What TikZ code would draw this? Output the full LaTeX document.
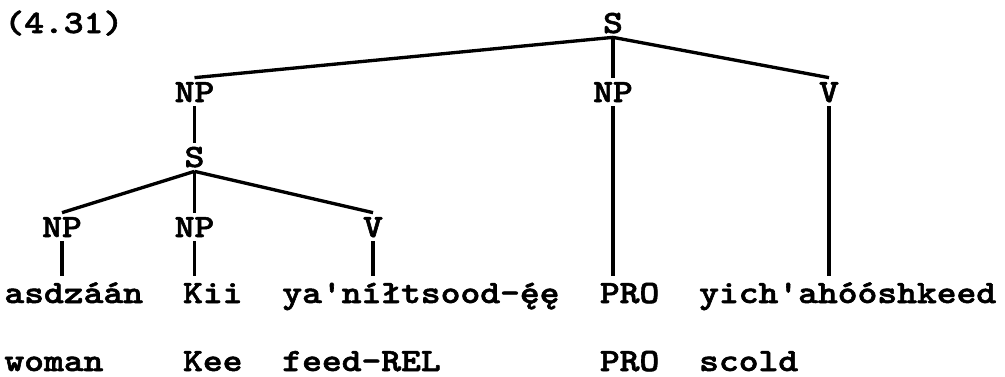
\documentclass[tikz,border=0pt]{standalone}
\usepackage{fontspec}
\usepackage{tikz}
\usetikzlibrary{positioning}
\newfontfamily\typew{lmmonolt10-bold.otf}[FakeBold=1.6]
\newcommand{\leafpair}[4]{%
  \node[word] (w#1) at (0.08+0.397*#2,1.46) {#3};
  \node[word] (g#1) at (0.08+0.397*#2,0.10) {#4};}

\begin{document}
\begin{tikzpicture}[font=\fontsize{18.5pt}{22pt}\selectfont\typew,
  cat/.style={anchor=base, inner xsep=0pt, inner ysep=0.08cm, text height=0.40cm, text depth=0pt, xscale=1.16},
  word/.style={anchor=base west, inner xsep=0pt, inner ysep=0.08cm, text height=0.46cm, text depth=0pt, xscale=1.16},
  branch/.style={line width=1.9pt}]
  \useasboundingbox (0,0) rectangle (20.1,7.52);
  \node[word] (exnum) at (0.08,6.86) {(4.31)};
  \node[cat] (s1) at (12.26,6.86) {S};
  \node[cat] (np1) at (3.89,5.48) {NP};
  \node[cat] (np2) at (12.26,5.48) {NP};
  \node[cat] (v1) at (16.58,5.48) {V};
  \node[cat] (s2) at (3.89,4.18) {S};
  \node[cat] (np3) at (1.24,2.78) {NP};
  \node[cat] (np4) at (3.89,2.78) {NP};
  \node[cat] (v2) at (7.46,2.78) {V};
  \leafpair{1}{0}{asdzáán}{woman}
  \leafpair{2}{9}{Kii}{Kee}
  \leafpair{3}{14}{ya'níłtsood-ę́ę}{feed-REL}
  \leafpair{4}{30}{PRO}{PRO}
  \leafpair{5}{35}{yich'ahóóshkeed}{scold}
  \draw[branch] (s1.south) -- (np1.north);
  \draw[branch] (s1.south) -- (np2.north);
  \draw[branch] (s1.south) -- (v1.north);
  \draw[branch] (np1.south) -- (s2.north);
  \draw[branch] (s2.south) -- (np3.north);
  \draw[branch] (s2.south) -- (np4.north);
  \draw[branch] (s2.south) -- (v2.north);
  \draw[branch] (np3.south) -- (np3.south |- w1.north);
  \draw[branch] (np4.south) -- (np4.south |- w2.north);
  \draw[branch] (v2.south) -- (v2.south |- w3.north);
  \draw[branch] (np2.south) -- (np2.south |- w4.north);
  \draw[branch] (v1.south) -- (v1.south |- w5.north);
\end{tikzpicture}
\end{document}
